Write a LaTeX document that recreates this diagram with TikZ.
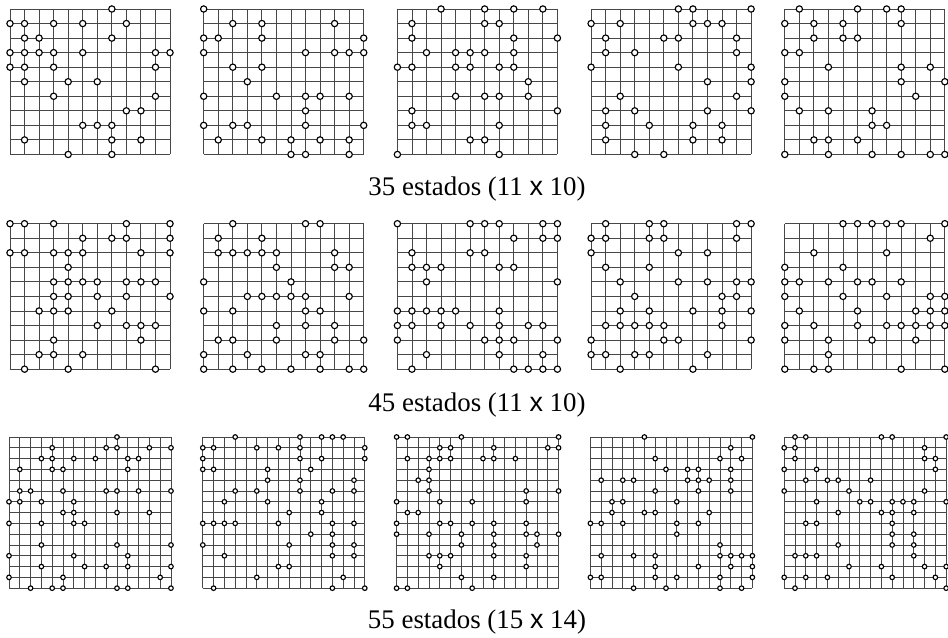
\documentclass[tikz,border=0pt]{standalone}
\usepackage{fontspec}
\setmainfont{Liberation Serif}
\newfontfamily\sansx{Liberation Sans}
\usepackage{tikz}

\begin{document}
\begin{tikzpicture}[
  x=0.02cm, y=-0.02cm,
  gridline/.style={draw=black!72, line width=0.5pt},
  state/.style={draw=black, fill=white, line width=0.65pt},
  lab/.style={font=\fontsize{15.3}{17}\selectfont, inner sep=0pt}
]
\path[use as bounding box] (0,0) rectangle (948,638);

% 35 estados, 11 x 10
\foreach \k/\pts in {
  0/{7/0, 0/1,1/1,3/1,5/1,8/1, 1/2,2/2,7/2, 0/3,1/3,2/3,3/3,5/3,10/3,11/3, 0/4,1/4,3/4,10/4, 1/5,4/5,6/5, 3/6,10/6, 8/7,9/7, 5/8,6/8,7/8, 1/9,7/9,9/9, 4/10,7/10},
  1/{0/0, 2/1,4/1,9/1, 0/2,1/2,4/2,11/2, 0/3,7/3,9/3,10/3,11/3, 2/4,4/4, 3/5, 0/6,5/6,7/6,8/6,10/6, 7/7, 0/8,2/8,3/8,7/8,11/8, 1/9,4/9,6/9,8/9,10/9, 6/10,7/10,10/10},
  2/{3/0,6/0,8/0,10/0, 1/1,6/1,7/1, 1/2,8/2,11/2, 2/3,4/3,5/3,6/3,8/3, 0/4,1/4,4/4,5/4,7/4,8/4, 9/5, 4/6,6/6,7/6,9/6, 1/7,11/7, 1/8,2/8,7/8, 5/9,6/9, 0/10,7/10},
  3/{6/0,7/0,11/0, 0/1,2/1,7/1,8/1,9/1, 1/2,5/2,6/2,10/2, 1/3,3/3,10/3, 0/4,6/4,11/4, 8/5,11/5, 2/6,10/6, 1/7,3/7,8/7,11/7, 1/8,4/8,7/8,9/8, 1/9,7/9,9/9, 3/10,5/10},
  4/{1/0,5/0,7/0,8/0, 0/1,2/1,4/1,8/1, 2/2,4/2,5/2, 0/3,1/3, 3/4,8/4,10/4, 0/5,8/5,11/5, 0/6,9/6, 1/7,3/7,6/7, 6/8,7/8, 2/9,3/9,5/9, 0/10,3/10,6/10,8/10,10/10,11/10}}
{
  \begin{scope}[shift={(10+193.7*\k,9)}, x=0.291cm, y=-0.291cm]
    \foreach \i in {0,...,11} \draw[gridline] (\i,0) -- (\i,10);
    \foreach \j in {0,...,10} \draw[gridline] (0,\j) -- (11,\j);
    \foreach \c/\r in \pts \draw[state] (\c,\r) circle (1.8pt);
  \end{scope}
}
\node[lab] (lab35) at (477,189) {35 estados (11 {\sansx x} 10)};

% 45 estados, 11 x 10
\foreach \k/\pts in {
  0/{0/0,1/0,3/0,8/0,11/0, 5/1,7/1,8/1,11/1, 0/2,1/2,3/2,4/2,5/2,9/2,11/2, 4/3, 3/4,4/4,5/4,6/4,8/4,9/4,10/4, 3/5,4/5,6/5,8/5,11/5, 2/6,3/6,4/6,7/6, 6/7,8/7,9/7,10/7, 3/8,9/8, 2/9,3/9,5/9, 1/10,4/10,10/10},
  1/{2/0,7/0,8/0, 1/1,4/1, 1/2,2/2,3/2,4/2,5/2,9/2, 5/3,9/3,10/3, 0/4,6/4, 3/5,4/5,5/5,6/5,7/5,10/5, 0/6,2/6,7/6,8/6, 5/7,7/7,9/7, 1/8,2/8,5/8,9/8,11/8, 0/9,3/9,7/9,8/9, 0/10,2/10,4/10,6/10,8/10,10/10,11/10},
  2/{0/0,5/0,6/0,7/0,10/0,11/0, 8/1,10/1,11/1, 1/2,5/2,6/2, 1/3,2/3,3/3,7/3,8/3, 2/4,11/4, 0/6,1/6,2/6,3/6,4/6,7/6, 0/7,1/7,3/7,5/7,7/7,9/7,10/7, 0/8,6/8,7/8,8/8,11/8, 2/9,7/9,10/9, 1/10,8/10,9/10,10/10,11/10},
  3/{1/0,4/0,5/0,10/0,11/0, 0/1,1/1,4/1,5/1,10/1, 0/2,6/2,8/2, 1/3,4/3, 2/4,6/4,8/4,10/4,11/4, 3/5,9/5,10/5, 2/6,4/6,7/6,9/6,11/6, 1/7,2/7,3/7,4/7,5/7,9/7, 0/8,5/8,6/8,11/8, 0/9,1/9,3/9,4/9,8/9, 2/10,7/10},
  4/{4/0,5/0,6/0,7/0,8/0,11/0, 10/1, 2/2,7/2, 0/3,4/3, 0/4,1/4,3/4,5/4,6/4,8/4, 0/5,4/5,7/5,10/5,11/5, 1/6,5/6,9/6,10/6,11/6, 0/7,2/7,5/7,7/7,8/7,9/7,10/7,11/7, 0/8,3/8,6/8,9/8, 3/9, 0/10,2/10,3/10,8/10,11/10}}
{
  \begin{scope}[shift={(10+193.7*\k,223.7)}, x=0.291cm, y=-0.291cm]
    \foreach \i in {0,...,11} \draw[gridline] (\i,0) -- (\i,10);
    \foreach \j in {0,...,10} \draw[gridline] (0,\j) -- (11,\j);
    \foreach \c/\r in \pts \draw[state] (\c,\r) circle (1.8pt);
  \end{scope}
}
\node[lab] (lab45) at (477,405) {45 estados (11 {\sansx x} 10)};

% 55 estados, 15 x 14
\foreach \k/\pts in {
  0/{10/0, 4/1,9/1,10/1,13/1,15/1, 3/2,4/2,6/2,8/2,11/2,12/2, 1/3,4/3,5/3,11/3, 1/5,2/5,5/5,9/5,10/5,12/5,15/5, 0/6,1/6,3/6,6/6, 5/7,6/7,10/7,13/7, 0/8,3/8,6/8,7/8, 3/10,10/10,15/10, 0/11,6/11,11/11, 3/12,7/12,9/12,11/12,15/12, 0/13,5/13,14/13, 2/14,4/14,5/14,10/14,11/14,15/14},
  1/{3/0,9/0,11/0,12/0,13/0, 0/1,1/1,5/1,7/1,9/1,15/1, 0/2,9/2,11/2,15/2, 0/3,1/3,6/3,10/3, 6/4,9/4,14/4, 3/5,5/5,9/5,12/5,14/5, 2/6,6/6,11/6, 8/7,11/7, 0/8,1/8,2/8,3/8,7/8,12/8,14/8, 10/9,12/9, 0/10,8/10,12/10,14/10, 2/11,12/11,14/11, 7/12,8/12, 5/13,13/13, 1/14,12/14,15/14},
  2/{0/0,1/0,6/0,15/0, 4/1,5/1,9/1,14/1,15/1, 1/2,3/2,4/2,5/2,8/2,9/2,11/2, 3/3, 2/4,3/4, 3/5,12/5,15/5, 0/6,4/6,7/6,12/6, 1/7,2/7, 0/8,4/8,5/8,7/8,9/8,12/8, 0/9,3/9,6/9,9/9,12/9,13/9,15/9, 6/10,9/10,13/10, 3/11,4/11,5/11,9/11,12/11, 4/12,12/12, 6/13,9/13, 0/14,1/14,7/14},
  3/{5/0,15/0, 13/1, 6/2,12/2,14/2, 7/3,9/3,10/3,13/3, 1/4,3/4,4/4,9/4,10/4,11/4,13/4, 6/5,10/5,13/5, 2/6,3/6,8/6, 2/7,5/7,6/7,11/7, 0/8,1/8,3/8,8/8,10/8, 8/9, 12/10, 1/11,4/11,6/11,12/11,13/11,14/11,15/11, 6/12,10/12,13/12,15/12, 0/13,1/13,6/13,8/13,12/13,15/13, 4/14,7/14,12/14,14/14},
  4/{1/0,2/0,9/0,10/0,15/0, 0/1,1/1,13/1, 1/2,13/2,14/2, 0/3,3/3,14/3, 2/4,4/4,5/4,8/4, 0/5,6/5,13/5, 3/6,7/6,8/6,10/6,11/6,12/6,15/6, 5/7,9/7,10/7,12/7, 2/8,3/8,10/8, 10/9,12/9, 5/10,10/10,12/10, 1/11,2/11,3/11,12/11, 6/12,9/12,13/12,15/12, 0/13,2/13,4/13,10/13,14/13, 1/14,15/14}}
{
  \begin{scope}[shift={(9+193.8*\k,437)}, x=0.216cm, y=-0.216cm]
    \foreach \i in {0,...,15} \draw[gridline] (\i,0) -- (\i,14);
    \foreach \j in {0,...,14} \draw[gridline] (0,\j) -- (15,\j);
    \foreach \c/\r in \pts \draw[state] (\c,\r) circle (1.3pt);
  \end{scope}
}
\node[lab] (lab55) at (477,622) {55 estados (15 {\sansx x} 14)};
\end{tikzpicture}
\end{document}
